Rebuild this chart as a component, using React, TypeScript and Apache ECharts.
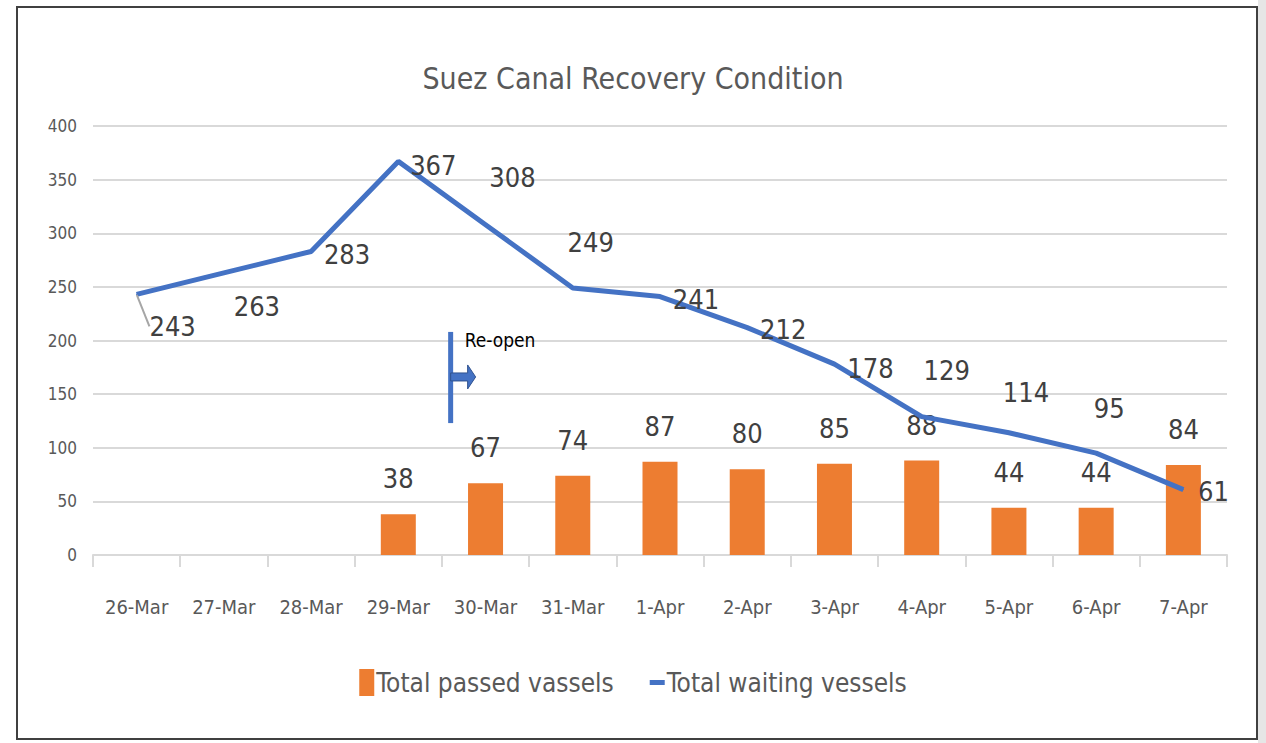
import React, { useEffect, useRef } from "react";
import * as echarts from "echarts";

const categories = ["26-Mar", "27-Mar", "28-Mar", "29-Mar", "30-Mar", "31-Mar", "1-Apr", "2-Apr", "3-Apr", "4-Apr", "5-Apr", "6-Apr", "7-Apr"];
const passedVessels: (number | null)[] = [null, null, null, 38, 67, 74, 87, 80, 85, 88, 44, 44, 84];
const waitingVessels = [243, 263, 283, 367, 308, 249, 241, 212, 178, 129, 114, 95, 61];
const yTicks = { min: 0, max: 400, interval: 50 };
// label offsets (px) of the waiting-vessel labels relative to their points
const waitingLabelOffsets: [number, number][] = [
  [36, 32], [33, 34], [36, 3], [35, 4], [27, -47], [18, -45], [36, 3], [36, 2], [36, 4], [25, -46], [17, -40], [13, -45], [30, 2],
];

const FONT = "'DejaVu Sans Condensed', 'Liberation Sans Narrow', sans-serif";

export default function App() {
  const ref = useRef<HTMLDivElement>(null);
  useEffect(() => {
    document.body.style.margin = "0";
    const chart = echarts.init(ref.current!, undefined, { renderer: "svg" });
    const option: any = {
      animation: false,
      backgroundColor: "#ffffff",
      textStyle: { fontFamily: FONT },
      title: {
        text: "Suez Canal Recovery Condition",
        left: "center",
        top: 58,
        textStyle: { fontFamily: FONT, fontSize: 30, fontWeight: "normal", color: "#595959" },
      },
      legend: {
        bottom: 42,
        left: "center",
        itemGap: 36,
        itemWidth: 15,
        itemHeight: 27,
        textStyle: { fontFamily: FONT, fontSize: 26, color: "#595959", padding: [0, 0, 0, -3] },
        data: [
          { name: "Total passed vassels", icon: "rect" },
          { name: "Total waiting vessels", icon: "path://M0,0 L30,0 L30,10 L0,10 Z" },
        ],
      },
      grid: { left: 93, right: 39, top: 126, bottom: 188 },
      xAxis: {
        type: "category",
        data: categories,
        axisLine: { lineStyle: { color: "#d9d9d9", width: 2 } },
        axisTick: { show: true, length: 12, interval: 0, lineStyle: { color: "#d9d9d9", width: 2 } },
        axisLabel: { fontFamily: FONT, fontSize: 20, color: "#595959", margin: 42, interval: 0 },
      },
      yAxis: {
        type: "value",
        min: yTicks.min,
        max: yTicks.max,
        interval: yTicks.interval,
        axisLine: { show: false },
        axisTick: { show: false },
        splitLine: { lineStyle: { color: "#d9d9d9", width: 2 } },
        axisLabel: { fontFamily: FONT, fontSize: 17, color: "#595959", margin: 16 },
      },
      series: [
        {
          name: "Total passed vassels",
          type: "bar",
          data: passedVessels,
          barWidth: 35,
          itemStyle: { color: "#ed7d31" },
          label: {
            show: true,
            position: "top",
            distance: 22,
            fontFamily: FONT,
            fontSize: 27,
            color: "#404040",
          },
        },
        {
          name: "Total waiting vessels",
          type: "line",
          data: waitingVessels.map((v, i) => ({
            value: v,
            label: { offset: waitingLabelOffsets[i] },
            labelLine: i === 0 ? { show: true, lineStyle: { color: "#a6a6a6", width: 2 } } : undefined,
          })),
          symbol: "circle",
          symbolSize: 1,
          showSymbol: true,
          itemStyle: { color: "#4472c4" },
          lineStyle: { color: "#4472c4", width: 5 },
          label: {
            show: true,
            position: "inside",
            align: "center",
            verticalAlign: "middle",
            fontFamily: FONT,
            fontSize: 27,
            color: "#404040",
          },
          z: 3,
        },
      ],
    };
    chart.setOption(option);

    // Re-open annotation anchored to data coordinates (between 29-Mar and 30-Mar)
    const p1 = chart.convertToPixel({ gridIndex: 0 }, [3, 208]) as number[];
    const p2 = chart.convertToPixel({ gridIndex: 0 }, [4, 123]) as number[];
    const pm = chart.convertToPixel({ gridIndex: 0 }, [3, 166]) as number[];
    const x = p1[0] + (p2[0] - p1[0]) * 0.6;
    const ytop = p1[1];
    const ybot = p2[1];
    const ym = pm[1];
    const blue = "#4472c4";
    chart.setOption({
      graphic: [
        {
          type: "rect",
          shape: { x: 17, y: 7, width: 1240, height: 732 },
          style: { fill: "none", stroke: "#404040", lineWidth: 2 },
          silent: true,
        },
        {
          type: "rect",
          shape: { x: 1258, y: 0, width: 8, height: 743 },
          style: { fill: "#e6e6e6" },
          silent: true,
        },
        {
          type: "rect",
          shape: { x: x - 2.5, y: ytop, width: 5, height: ybot - ytop },
          style: { fill: blue },
        },
        {
          type: "polygon",
          shape: {
            points: [
              [x, ym - 4],
              [x + 17, ym - 4],
              [x + 17, ym - 12],
              [x + 25, ym],
              [x + 17, ym + 12],
              [x + 17, ym + 4],
              [x, ym + 4],
            ],
          },
          style: { fill: blue, stroke: "#2f528f", lineWidth: 1 },
        },
        {
          type: "text",
          x: x + 14,
          y: ytop + 8,
          style: { text: "Re-open", fontFamily: FONT, fontSize: 19, fill: "#000000", textVerticalAlign: "middle" },
        },
      ],
    });
    return () => chart.dispose();
  }, []);
  return <div ref={ref} style={{ width: 1266, height: 743 }} />;
}
